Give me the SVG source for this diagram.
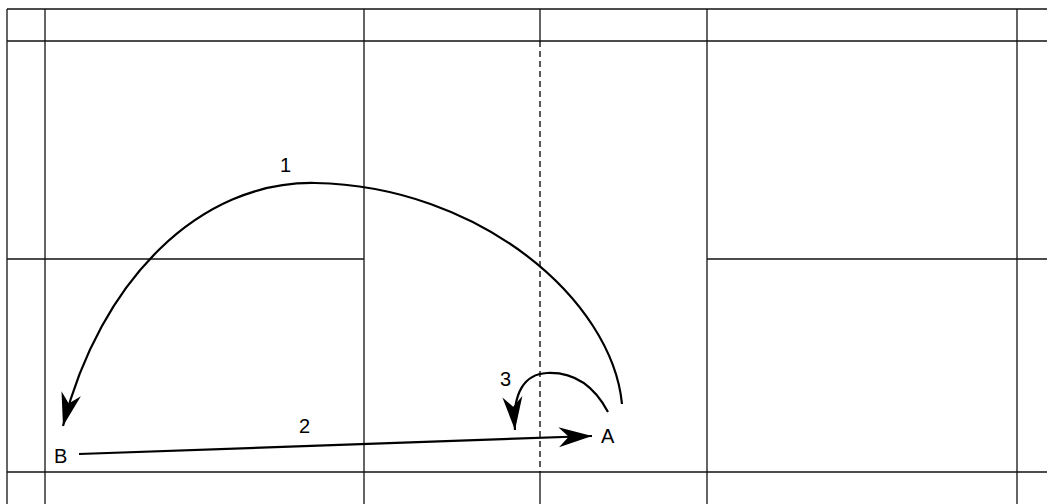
<svg xmlns="http://www.w3.org/2000/svg" width="1047" height="504" viewBox="0 0 1047 504">
<style>
.grid{stroke:#111;stroke-width:1.3;fill:none}
.dash{stroke:#000;stroke-width:1.3;stroke-dasharray:6,4;fill:none}
.conn{stroke:#000;stroke-width:2.2;fill:none}
.lbl{font-family:"Liberation Sans",Arial,sans-serif;font-size:20px;fill:#000}
</style>
<defs>
<marker id="ah" markerUnits="userSpaceOnUse" markerWidth="40" markerHeight="30" refX="0" refY="0" viewBox="-32 -12 36 24" orient="auto">
<path d="M0,0 L-30,-9 L-21,0 L-30,9 Z" fill="#000"/>
</marker>
</defs>
<rect width="1047" height="504" fill="#fff"/>
<g id="grid">
<line class="grid" x1="7" y1="9" x2="1047" y2="9"/>
<line class="grid" x1="7" y1="41" x2="1047" y2="41"/>
<line class="grid" x1="7" y1="259" x2="364" y2="259"/>
<line class="grid" x1="707" y1="259" x2="1047" y2="259"/>
<line class="grid" x1="7" y1="472" x2="1047" y2="472"/>
<line class="grid" x1="7" y1="9" x2="7" y2="504"/>
<line class="grid" x1="45" y1="9" x2="45" y2="504"/>
<line class="grid" x1="364" y1="9" x2="364" y2="504"/>
<line class="grid" x1="540" y1="9" x2="540" y2="41"/>
<line class="dash" x1="540" y1="41" x2="540" y2="472"/>
<line class="grid" x1="540" y1="472" x2="540" y2="504"/>
<line class="grid" x1="707" y1="9" x2="707" y2="504"/>
<line class="grid" x1="1017" y1="9" x2="1017" y2="504"/>
</g>
<g id="connectors">
<path class="conn" d="M622,404 C612,300 480,186 315,183 C200,181 100,280 63,426" marker-end="url(#ah)"/>
<path class="conn" d="M608,412 C592,382 570,372 547,373 C525,374 512,392 515,430" marker-end="url(#ah)"/>
<path class="conn" d="M79,454 L592,436" marker-end="url(#ah)"/>
</g>
<g id="label-1"><text class="lbl" x="280" y="172">1</text></g>
<g id="label-2"><text class="lbl" x="299" y="433">2</text></g>
<g id="label-3"><text class="lbl" x="500" y="386">3</text></g>
<g id="node-A"><text class="lbl" x="601" y="443">A</text></g>
<g id="node-B"><text class="lbl" x="54" y="463">B</text></g>
</svg>
